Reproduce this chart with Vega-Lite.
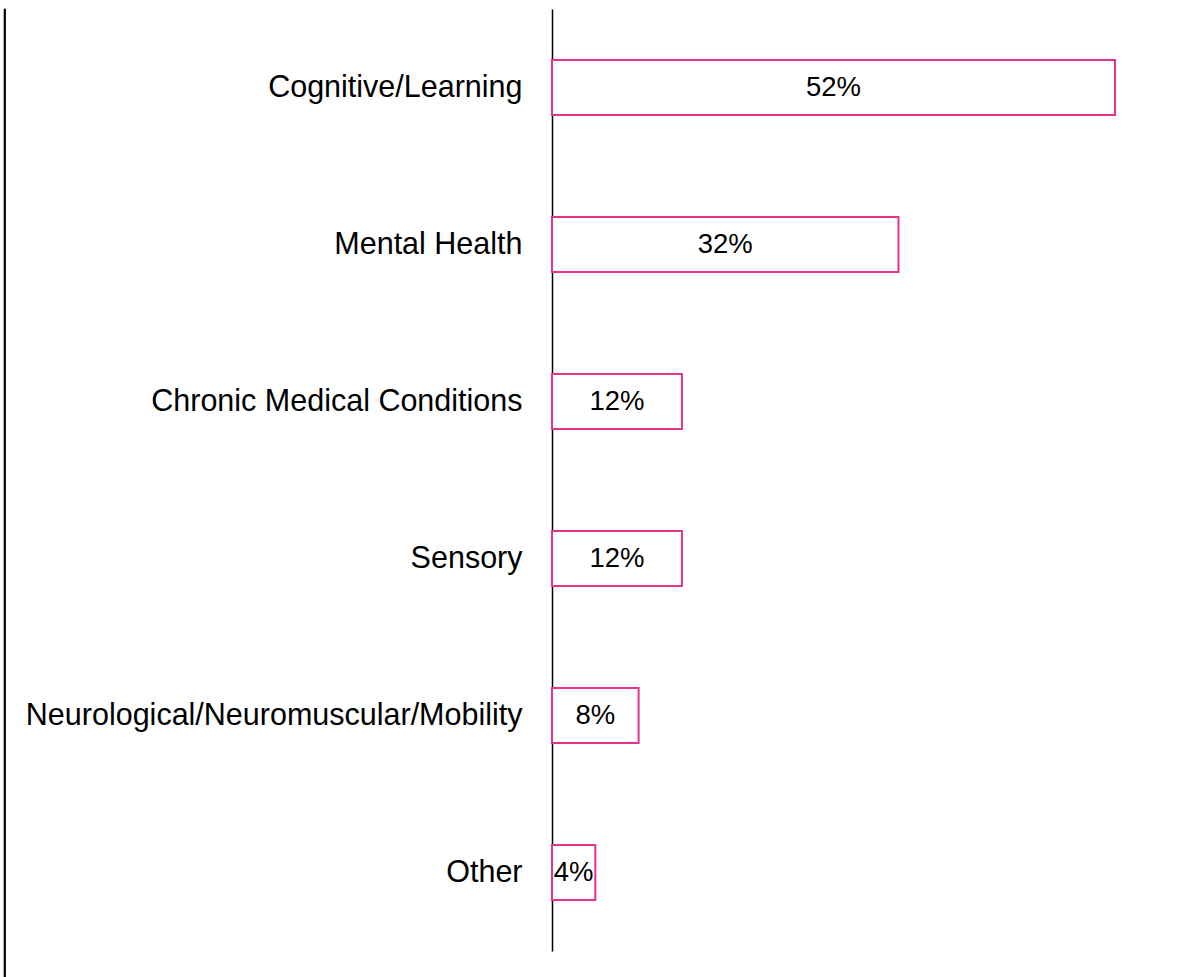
{
  "$schema": "https://vega.github.io/schema/vega-lite/v6.json",
  "background": "white",
  "padding": {"left": 1, "top": 0, "right": 0, "bottom": 0},
  "spacing": 17,
  "config": {"view": {"stroke": null}, "font": "Liberation Sans"},
  "hconcat": [
    {
      "width": 1,
      "height": 977,
      "data": {"values": [{"a": 1}]},
      "mark": {"type": "point", "opacity": 0},
      "encoding": {},
      "view": {"stroke": "black", "strokeWidth": 1.2}
    },
    {
      "width": 628,
      "height": 942,
      "title": {"text": " ", "fontSize": 1, "offset": 8},
      "data": {
        "values": [
          {"category": "Cognitive/Learning", "value": 52, "label": "52%"},
          {"category": "Mental Health", "value": 32, "label": "32%"},
          {"category": "Chronic Medical Conditions", "value": 12, "label": "12%"},
          {"category": "Sensory", "value": 12, "label": "12%"},
          {"category": "Neurological/Neuromuscular/Mobility", "value": 8, "label": "8%"},
          {"category": "Other", "value": 4, "label": "4%"}
        ]
      },
      "encoding": {
        "y": {
          "field": "category",
          "type": "nominal",
          "sort": null,
          "scale": {"paddingInner": 0.65, "paddingOuter": 0.325},
          "axis": {
            "title": null,
            "ticks": false,
            "domainColor": "black",
            "domainWidth": 1.5,
            "labelColor": "black",
            "labelFontSize": 30.5,
            "labelPadding": 30,
            "labelLimit": 1000,
            "grid": false
          }
        }
      },
      "layer": [
        {
          "mark": {"type": "bar", "fill": "white", "stroke": "#E6338A", "strokeWidth": 2},
          "encoding": {
            "x": {"field": "value", "type": "quantitative", "scale": {"domain": [0, 58]}, "axis": null}
          }
        },
        {
          "mark": {"type": "text", "fontSize": 27.5, "color": "black", "align": "center", "baseline": "middle"},
          "encoding": {
            "x": {"field": "value", "type": "quantitative", "stack": "zero", "bandPosition": 0.5, "scale": {"domain": [0, 58]}, "axis": null},
            "text": {"field": "label"}
          }
        }
      ]
    }
  ]
}
